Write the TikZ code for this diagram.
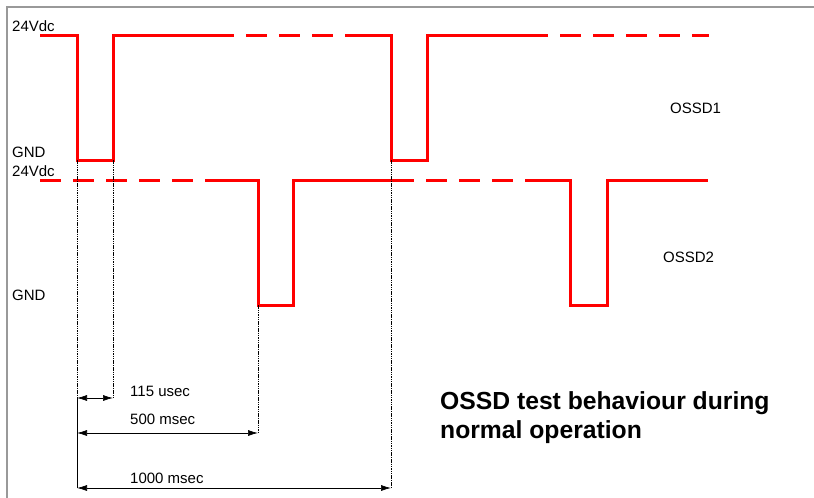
\documentclass[tikz,border=0pt]{standalone}
\usepackage{fontspec}
\setmainfont{Liberation Sans}
\usetikzlibrary{arrows.meta}
\begin{document}
\begin{tikzpicture}[x={(1pt,0)},y={(0,-1pt)},
  sig/.style={draw=red,line width=3pt,line join=miter},
  sigdash/.style={draw=red,line width=3pt,dash pattern=on 21pt off 12pt},
  guide/.style={draw=black,line width=1pt,dash pattern=on 1.5pt off 0.8pt},
  dim/.style={draw=black,line width=0.7pt,{Latex[length=10pt,width=6pt]}-{Latex[length=10pt,width=6pt]}},
  lbl/.style={inner sep=0pt,anchor=base west,font=\fontsize{15}{18}\selectfont},
  title/.style={inner sep=0pt,anchor=base west,font=\fontsize{24.7}{29}\selectfont\bfseries}]
\useasboundingbox (0,0) rectangle (814,498);
\fill[white] (0,0) rectangle (814,498);
% frame
\draw[gray!80,line width=1.5pt] (7,498) -- (7,7) -- (814,7);

% OSSD1 coordinates
\coordinate (a0) at (40,35);
\coordinate (a1) at (77,35);
\coordinate (a2) at (77,160);
\coordinate (a3) at (113,160);
\coordinate (a4) at (113,35);
\coordinate (a5) at (213,35);
\coordinate (a6) at (357,35);
\coordinate (a7) at (391,35);
\coordinate (a8) at (391,160);
\coordinate (a9) at (427,160);
\coordinate (a10) at (427,35);
\coordinate (a11) at (527,35);
\coordinate (a12) at (709,35);
\draw[sig] (a0) -- (a1) -- (a2) -- (a3) -- (a4) -- (a5);
\draw[sigdash] (a5) -- (a6);
\draw[sig] (a6) -- (a7) -- (a8) -- (a9) -- (a10) -- (a11);
\draw[sigdash] (a11) -- (a12);

% OSSD2 coordinates
\coordinate (b0) at (40,180);
\coordinate (b1) at (222,180);
\coordinate (b2) at (258,180);
\coordinate (b3) at (258,305);
\coordinate (b4) at (293,305);
\coordinate (b5) at (293,180);
\coordinate (b6) at (393,180);
\coordinate (b7) at (536,180);
\coordinate (b8) at (570,180);
\coordinate (b9) at (570,305);
\coordinate (b10) at (607,305);
\coordinate (b11) at (607,180);
\coordinate (b12) at (708,180);
\draw[sigdash] (b0) -- (b1);
\draw[sig] (b1) -- (b2) -- (b3) -- (b4) -- (b5) -- (b6);
\draw[sigdash] (b6) -- (b7);
\draw[sig] (b7) -- (b8) -- (b9) -- (b10) -- (b11) -- (b12);

% guide lines
\coordinate (g1) at (77,398);
\coordinate (g1b) at (77,488);
\coordinate (g2) at (113,398);
\coordinate (g3) at (258,433);
\coordinate (g4) at (391,488);
\draw[guide] (a2) -- (g1);
\draw[draw=black,line width=0.8pt] (g1) -- (g1b);
\draw[guide] (a3) -- (g2);
\draw[guide] (b3) -- (g3);
\draw[guide] (a8) -- (g4);

% dimension arrows
\coordinate (d1) at (77,433);
\draw[dim] (g1) -- (g2);
\draw[dim] (d1) -- (g3);
\draw[dim] (g1b) -- (g4);

% labels
\node[lbl] (v1) at (12,31) {24Vdc};
\node[lbl] (n1) at (12,157) {GND};
\node[lbl] (v2) at (12,176) {24Vdc};
\node[lbl] (n2) at (12,300) {GND};
\node[lbl] (o1) at (670,113) {OSSD1};
\node[lbl] (o2) at (663,262) {OSSD2};
\node[lbl] (t1) at (130,396) {115 usec};
\node[lbl] (t2) at (130,424) {500 msec};
\node[lbl] (t3) at (130,483) {1000 msec};
\node[title] (h1) at (440,409) {OSSD test behaviour during};
\node[title] (h2) at (440,438) {normal operation};
\end{tikzpicture}
\end{document}
